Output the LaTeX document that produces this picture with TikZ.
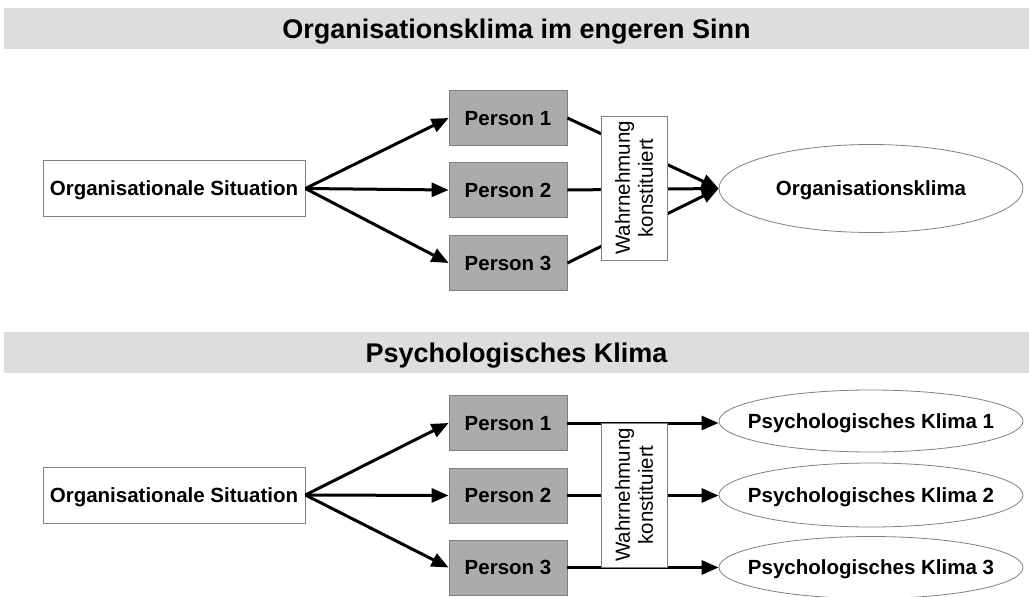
\documentclass[tikz,border=0pt]{standalone}
\usepackage{fontspec}
\setmainfont{Liberation Sans}
\usetikzlibrary{arrows.meta,shapes.geometric}
\definecolor{headgray}{HTML}{DDDDDD}
\definecolor{persgray}{HTML}{ABABAB}
\definecolor{edgegray}{HTML}{808080}
\begin{document}
\begin{tikzpicture}[x=1pt,y=-1pt,
  % centre text on its capital letters (cap height of Liberation Sans is 0.716 em)
  capcenter/.style={text height=#1, text depth=0pt},
  header/.style={fill=headgray, draw=none, minimum width=1025pt, minimum height=41pt, inner sep=0pt,
    font=\fontsize{27}{30}\selectfont\bfseries, capcenter=19.3pt},
  sitbox/.style={draw=edgegray, line width=0.8pt, fill=white, minimum width=262pt, minimum height=56pt, inner sep=0pt,
    font=\fontsize{20.5}{24}\selectfont\bfseries, capcenter=14.7pt},
  persbox/.style={draw=edgegray, line width=0.8pt, fill=persgray, minimum width=118pt, minimum height=55pt, inner sep=0pt,
    font=\fontsize{20.5}{24}\selectfont\bfseries, capcenter=14.7pt},
  wahrbox/.style={draw=edgegray, line width=0.8pt, fill=white, rotate=90, minimum width=144pt, minimum height=66pt,
    inner sep=0pt, align=center, font=\fontsize{20.5}{23}\selectfont},
  % fixed-size ellipse; its text is set as a centred label so it cannot grow the shape
  klimaell/.style={ellipse, draw=edgegray, line width=0.8pt, fill=white, minimum width=304pt, inner sep=0pt,
    label={[font=\fontsize{20.5}{24}\selectfont\bfseries, inner sep=0pt, capcenter=14.7pt]center:#1}},
  arr/.style={line width=3pt, -{Triangle[length=17pt,width=14pt]}},
]
\useasboundingbox (0,0) rectangle (1029,597);

% ---------- Organisationsklima im engeren Sinn ----------
\node[header] (h1) at (516.5,28.5) {Organisationsklima im engeren Sinn};

\node[sitbox] (s1) at (174,188.5) {Organisationale Situation};
\node[persbox] (a1) at (508,118) {Person 1};
\node[persbox] (a2) at (508,190) {Person 2};
\node[persbox] (a3) at (508,263) {Person 3};
\node[klimaell=Organisationsklima, minimum height=88pt] (ok) at (871,188.5) {};

\draw[arr] (s1.east) -- (a1.west);
\draw[arr] (s1.east) -- (a2.west);
\draw[arr] (s1.east) -- (a3.west);

\draw[arr] (a1.east) -- (ok.west);
\draw[arr] (a2.east) -- (ok.west);
\draw[arr] (a3.east) -- (ok.west);

\node[wahrbox] (w1) at (634,188) {Wahrnehmung\\konstituiert};

% ---------- Psychologisches Klima ----------
\node[header] (h2) at (516.5,352.5) {Psychologisches Klima};

\node[sitbox] (s2) at (174,495) {Organisationale Situation};
\node[persbox] (b1) at (508,423) {Person 1};
\node[persbox] (b2) at (508,495.5) {Person 2};
\node[persbox] (b3) at (508,567.5) {Person 3};
\node[klimaell=Psychologisches Klima 1, minimum height=62pt] (k1) at (871,421) {};
\node[klimaell=Psychologisches Klima 2, minimum height=64pt] (k2) at (871,495) {};
\node[klimaell=Psychologisches Klima 3, minimum height=62pt] (k3) at (871,567.5) {};

\draw[arr] (s2.east) -- (b1.west);
\draw[arr] (s2.east) -- (b2.west);
\draw[arr] (s2.east) -- (b3.west);

\draw[arr] (b1.east) -- (b1.east -| k1.west);
\draw[arr] (b2.east) -- (b2.east -| k2.west);
\draw[arr] (b3.east) -- (b3.east -| k3.west);

\node[wahrbox] (w2) at (634,495) {Wahrnehmung\\konstituiert};
\end{tikzpicture}
\end{document}
